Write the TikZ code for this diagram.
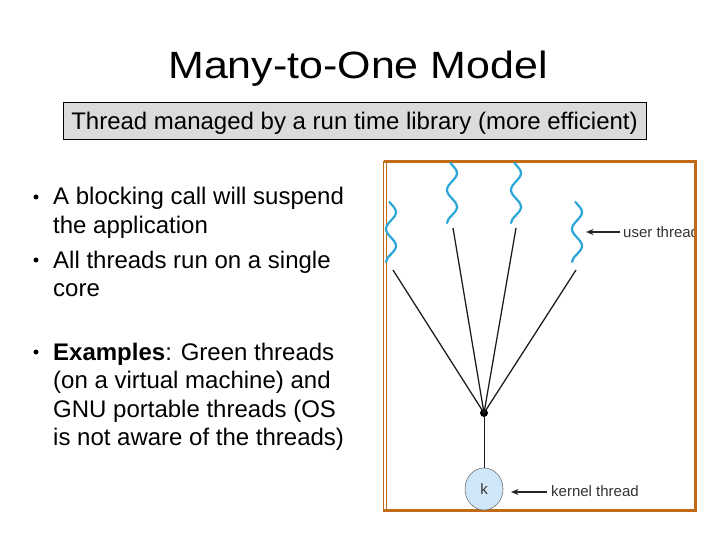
\documentclass[tikz,border=0pt]{standalone}
\usepackage{fontspec}
\setmainfont{Liberation Sans}
\usetikzlibrary{shapes.geometric,arrows.meta}
\definecolor{frameorange}{HTML}{C26B16}
\definecolor{wavecol}{HTML}{2CA6D6}
\definecolor{kfill}{HTML}{CFE7F8}
\definecolor{lblgray}{HTML}{333333}
\tikzset{
  wavestyle/.style={wavecol, line width=2.2pt, line cap=round},
  linkstyle/.style={black!90, line width=1.25pt},
  bodytext/.style={anchor=base west, inner sep=0pt, font=\fontsize{24}{29}\selectfont},
  bulletdot/.style={circle, fill=black, inner sep=0pt, minimum size=5pt},
  figlabel/.style={anchor=base west, inner sep=0pt, text=lblgray, font=\fontsize{15}{18}\selectfont},
  pointer/.style={-{Stealth[length=7.5pt,width=6pt]}, line width=1.3pt, black!85}
}
\newcommand\wavethread[2]{%
  \draw[wavestyle] ({#1-1.6},{#2})
    .. controls ({#1+1.2},{#2+3.3}) and ({#1+5},{#2+6.7}) .. ({#1+5},{#2+10})
    .. controls ({#1+5},{#2+16.3}) and ({#1-5},{#2+20.7}) .. ({#1-5},{#2+27})
    .. controls ({#1-5},{#2+33.3}) and ({#1+5},{#2+37.7}) .. ({#1+5},{#2+44})
    .. controls ({#1+5},{#2+50}) and ({#1-5},{#2+54.5}) .. ({#1-5},{#2+60});}
\begin{document}
\begin{tikzpicture}[x=1pt,y=-1pt]
\useasboundingbox[fill=white] (0,0) rectangle (720,540);

% title
\node[anchor=base, inner sep=0pt, font=\fontsize{38}{44}\selectfont] (title) at (358,79) {\scalebox{1.13}[1]{Many-to-One Model}};

% subtitle box
\node[draw=black, line width=0.8pt, fill=black!14, minimum width=583pt, minimum height=37pt, inner sep=0pt, text height=22pt, text depth=3pt, font=\fontsize{24}{29}\selectfont] (sub) at (354.5,120.5) {Thread managed by a run time library (more efficient)};

% bullets
\node[bulletdot] (b1) at (36,197) {};
\node[bodytext] (l1) at (53,205) {A blocking call will suspend};
\node[bodytext] (l2) at (53,233.5) {the application};
\node[bulletdot] (b2) at (36,260) {};
\node[bodytext] (l3) at (53,268) {All threads run on a single};
\node[bodytext] (l4) at (53,296.5) {core};
\node[bulletdot] (b3) at (36,352) {};
\node[bodytext] (l5) at (53,360) {\textbf{Examples}: Green threads};
\node[bodytext] (l6) at (53,388.5) {(on a virtual machine) and};
\node[bodytext] (l7) at (53,417) {GNU portable threads (OS};
\node[bodytext] (l8) at (53,445.5) {is not aware of the threads)};

% figure frame
\draw[frameorange, line width=3pt] (384,161.5) -- (695,161.5) -- (695,510) -- (384,510);
\draw[frameorange, line width=0.9pt] (383.3,161) -- (383.3,511.5);
\draw[frameorange, line width=0.9pt] (386,163) -- (386,508.5);

% user threads
\wavethread{391}{202}
\wavethread{452}{163}
\wavethread{516}{163}
\wavethread{577}{202}
\coordinate (u1) at (393,270);
\coordinate (u2) at (453,228);
\coordinate (u3) at (516,228);
\coordinate (u4) at (576,270);

\node[circle, fill=black, inner sep=0pt, minimum size=8pt] (hub) at (484,413) {};
\node[ellipse, draw=black!55, line width=0.6pt, fill=kfill, minimum width=38pt, minimum height=42pt, inner sep=0pt, font=\fontsize{15}{18}\selectfont, text=lblgray] (k) at (484,489) {k};

\draw[linkstyle] (u1) -- (hub.center);
\draw[linkstyle] (u2) -- (hub.center);
\draw[linkstyle] (u3) -- (hub.center);
\draw[linkstyle] (u4) -- (hub.center);
\draw[linkstyle, line width=0.7pt] (hub.center) -- (k.north);

% labels
\begin{scope}
\clip (386,163) rectangle (693.5,508);
\node[figlabel] (ulabel) at (623,237) {user thread};
\end{scope}
\coordinate (ua) at (620,232);
\coordinate (uh) at (586,232);
\draw[pointer] (ua) -- (uh);

\node[figlabel] (klabel) at (551,496) {kernel thread};
\coordinate (ka) at (547,492);
\coordinate (kh) at (511,492);
\draw[pointer] (ka) -- (kh);
\end{tikzpicture}
\end{document}
